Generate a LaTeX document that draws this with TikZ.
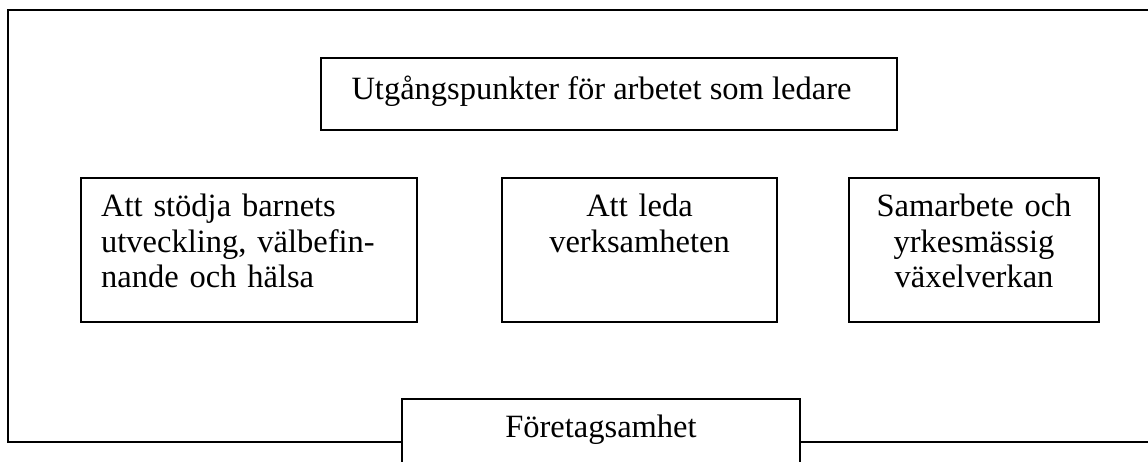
\documentclass[tikz,border=0pt]{standalone}
\usepackage{fontspec}
\setmainfont{Liberation Serif}
\usepackage{tikz}

\tikzset{
  ruta/.style={draw, line width=2pt, inner sep=0pt},
  rubrik/.style={inner sep=0pt, font=\fontsize{32.5}{35.5}\selectfont},
}

\begin{document}
\begin{tikzpicture}[x=1pt,y=1pt]
            \useasboundingbox (0,0) rectangle (1148,461);
            \clip (0,0) rectangle (1148,461);

            % yttre ram, oppen till hoger
            \draw[line width=2pt] (1160,451) -- (8,451) -- (8,19) -- (1160,19);

            \node[ruta, minimum width=576, minimum height=72] (utg) at (609,367) {};
            \node[rubrik, anchor=base] (utgtxt) at (601.5,361) {Utgångspunkter för arbetet som ledare};

            \node[ruta, minimum width=336, minimum height=144] (stod) at (249,211) {};
            \node[ruta, minimum width=275, minimum height=144] (leda) at (639.5,211) {};
            \node[ruta, minimum width=250, minimum height=144] (samarb) at (974,211) {};

            \node[rubrik, anchor=base west, text width=310, align=left] (stodtxt) at (101,244)
                {Att stödja barnets\\utveckling, välbefin-\\nande och hälsa};
            \node[rubrik, anchor=base, text width=260, align=center] (ledatxt) at (639.5,244)
                {Att leda\\verksamheten};
            \node[rubrik, anchor=base, text width=240, align=center] (samarbtxt) at (974,244)
                {Samarbete och\\yrkesmässig\\växelverkan};

            \node[ruta, fill=white, minimum width=398, minimum height=72] (foretag) at (601,26) {};
            \node[rubrik, anchor=base] (foretagtxt) at (601,24) {Företagsamhet};
        \end{tikzpicture}
\end{document}
